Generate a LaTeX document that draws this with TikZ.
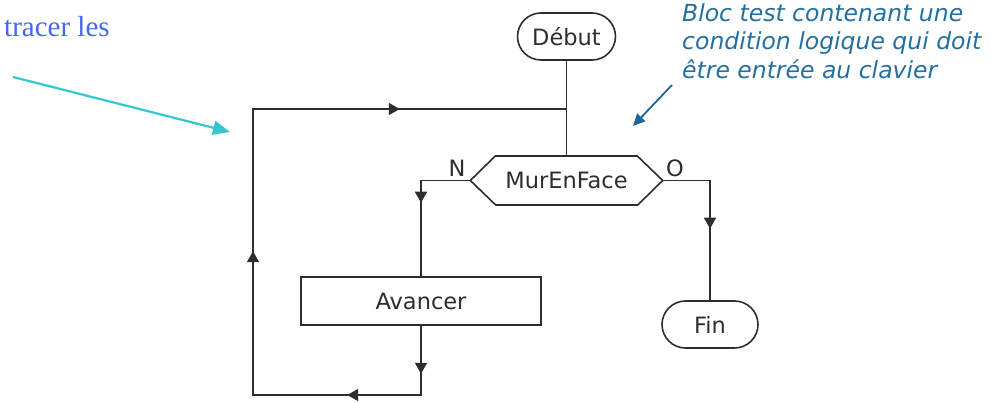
\documentclass[tikz,border=0pt]{standalone}
\usepackage{fontspec}
\setmainfont{DejaVu Sans}
\newfontfamily\serifblue{Liberation Serif}
\usetikzlibrary{arrows.meta,decorations.markings,shapes.misc}
\definecolor{ln}{RGB}{45,45,45}
\definecolor{annot}{RGB}{35,112,160}
\definecolor{annotarrow}{RGB}{30,100,150}
\definecolor{tblue}{RGB}{65,105,240}
\definecolor{cyanc}{RGB}{50,200,205}
\tikzset{
  tri/.tip={Triangle[width=12pt,length=11pt]},
  flow/.style={draw=ln, line width=1.6pt},
  tips/.style={postaction={decorate,decoration={markings,#1}}},
  lbl/.style={font=\fontsize{22.5}{27}\selectfont, text=ln},
  term/.style={rounded rectangle, draw=ln, line width=1.6pt, minimum width=98pt, minimum height=47pt, inner sep=0pt, lbl},
  procbox/.style={rectangle, draw=ln, line width=1.6pt, minimum width=240pt, minimum height=48pt, inner sep=0pt, lbl},
  notearrow/.style={draw=annotarrow, line width=1.8pt, -{Triangle[width=11pt,length=12pt]}},
  cyanarrow/.style={draw=cyanc, line width=2.2pt, -{Triangle[width=14pt,length=17pt]}}
}
\begin{document}
\begin{tikzpicture}[x=1pt,y=-1pt]
\useasboundingbox (0,0) rectangle (991,403);
% nodes
\node[term] (deb) at (566.5,36.5) {Début};
\node[lbl, minimum width=192pt, minimum height=49pt, inner sep=0pt] (hex) at (566.5,180.5) {MurEnFace};
\draw[flow] (hex.west) -- ++(25,-24.5) -- ++(142,0) -- (hex.east) -- ++(-25,24.5) -- ++(-142,0) -- cycle;
\node[procbox] (av) at (421,301) {Avancer};
\node[term, minimum width=96pt] (fin) at (710,324.5) {Fin};
\node[lbl, inner sep=0pt] (lN) at (457,168) {N};
\node[lbl, inner sep=0pt] (lO) at (675,168) {O};
% coordinates
\coordinate (j1) at (566.5,109);
\coordinate (tl) at (253,109);
\coordinate (bl) at (253,395);
\coordinate (br) at (421,395);
\coordinate (nl) at (421,180.5);
\coordinate (or) at (710,180.5);
% connectors
\draw[flow] (deb.south) -- (hex.north);
\draw[flow, tips={mark=at position 48pt with {\arrow{tri}}, mark=at position 143pt with {\arrow{tri}}, mark=at position 381pt with {\arrow{tri}}, mark=at position 670pt with {\arrow{tri}}}]
  (av.south) -- (br) -- (bl) -- (tl) -- (j1);
\draw[flow, tips={mark=at position 71.5pt with {\arrow{tri}}}] (hex.west) -- (nl) -- (av.north);
\draw[flow, tips={mark=at position 95.5pt with {\arrow{tri}}}] (hex.east) -- (or) -- (fin.north);
% annotations
\node[anchor=west, align=left, inner sep=0pt, text=annot, font=\itshape\fontsize{23.5}{28.5}\selectfont] (note) at (682,41) {Bloc test contenant une\\condition logique qui doit\\être entrée au clavier};
\coordinate (aS) at (672,85);
\coordinate (aE) at (633,126);
\draw[notearrow] (aS) -- (aE);
\node[anchor=base west, inner sep=0pt, text=tblue, font=\serifblue\fontsize{29}{34}\selectfont] (tr) at (4,37) {tracer les};
\coordinate (cS) at (13,77);
\coordinate (cE) at (230,132);
\draw[cyanarrow] (cS) -- (cE);
\end{tikzpicture}
\end{document}
